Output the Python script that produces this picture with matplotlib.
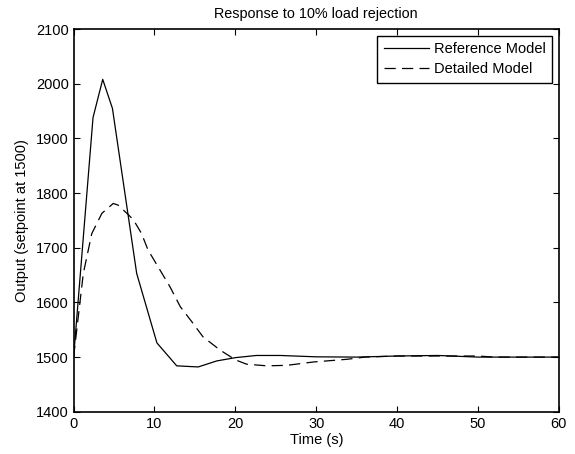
import matplotlib
matplotlib.use("Agg")
import matplotlib.pyplot as plt

plt.rcParams['font.family'] = ['Liberation Sans', 'DejaVu Sans']

# Reference model response
t_ref = [0, 2.4, 3.6, 4.8, 7.8, 10.3, 12.75, 15.4, 17.7, 20.0, 22.6, 25.5, 30, 35, 40, 45, 50, 55, 60]
y_ref = [1500, 1938, 2008, 1955, 1653, 1526, 1484, 1482, 1493, 1499, 1503, 1503, 1500.5, 1500, 1502, 1503, 1500, 1500, 1500]

# Detailed model response
t_det = [0, 1.2, 2.25, 3.5, 4.9, 5.5, 6.8, 7.4, 8.4, 9.2, 11.9, 13.2, 14.6, 16.0, 18.1, 20.0, 21.4, 23.9, 26.4, 29.6, 33.8, 36, 40, 45, 50, 52, 60]
y_det = [1500, 1653, 1726, 1763, 1781, 1778, 1760, 1751, 1726, 1696, 1629, 1592, 1565, 1537, 1513, 1495, 1487, 1484, 1485, 1491, 1496, 1500, 1502, 1502, 1502, 1500, 1500]

xticks = [0, 10, 20, 30, 40, 50, 60]
yticks = [1400, 1500, 1600, 1700, 1800, 1900, 2000, 2100]

fig = plt.figure(figsize=(5.75, 4.54), dpi=100)
ax = fig.add_axes([0.128, 0.093, 0.844, 0.843])

ax.plot(t_ref, y_ref, color='black', lw=0.9, label='Reference Model')
ax.plot(t_det, y_det, color='black', lw=0.9, dashes=(9, 5), label='Detailed Model')

ax.set_xlim(0, 60)
ax.set_ylim(1400, 2100)
ax.set_xticks(xticks)
ax.set_yticks(yticks)
ax.tick_params(direction='in', top=True, right=True, labelsize=10.5, length=4, width=0.8)
for s in ax.spines.values():
    s.set_linewidth(1.2)

ax.set_xlabel('Time (s)', fontsize=10.5, labelpad=2)
ax.set_ylabel('Output (setpoint at 1500)', fontsize=10.5, labelpad=5)
ax.set_title('Response to 10% load rejection', fontsize=10.4, pad=8)

leg = ax.legend(loc='upper right', fontsize=10.5, fancybox=False, framealpha=1,
                edgecolor='black', handlelength=3.1, borderaxespad=0.45,
                borderpad=0.45, labelspacing=0.4, handletextpad=0.35)
leg.get_frame().set_linewidth(1.0)

fig.savefig('out.png', dpi=100)
